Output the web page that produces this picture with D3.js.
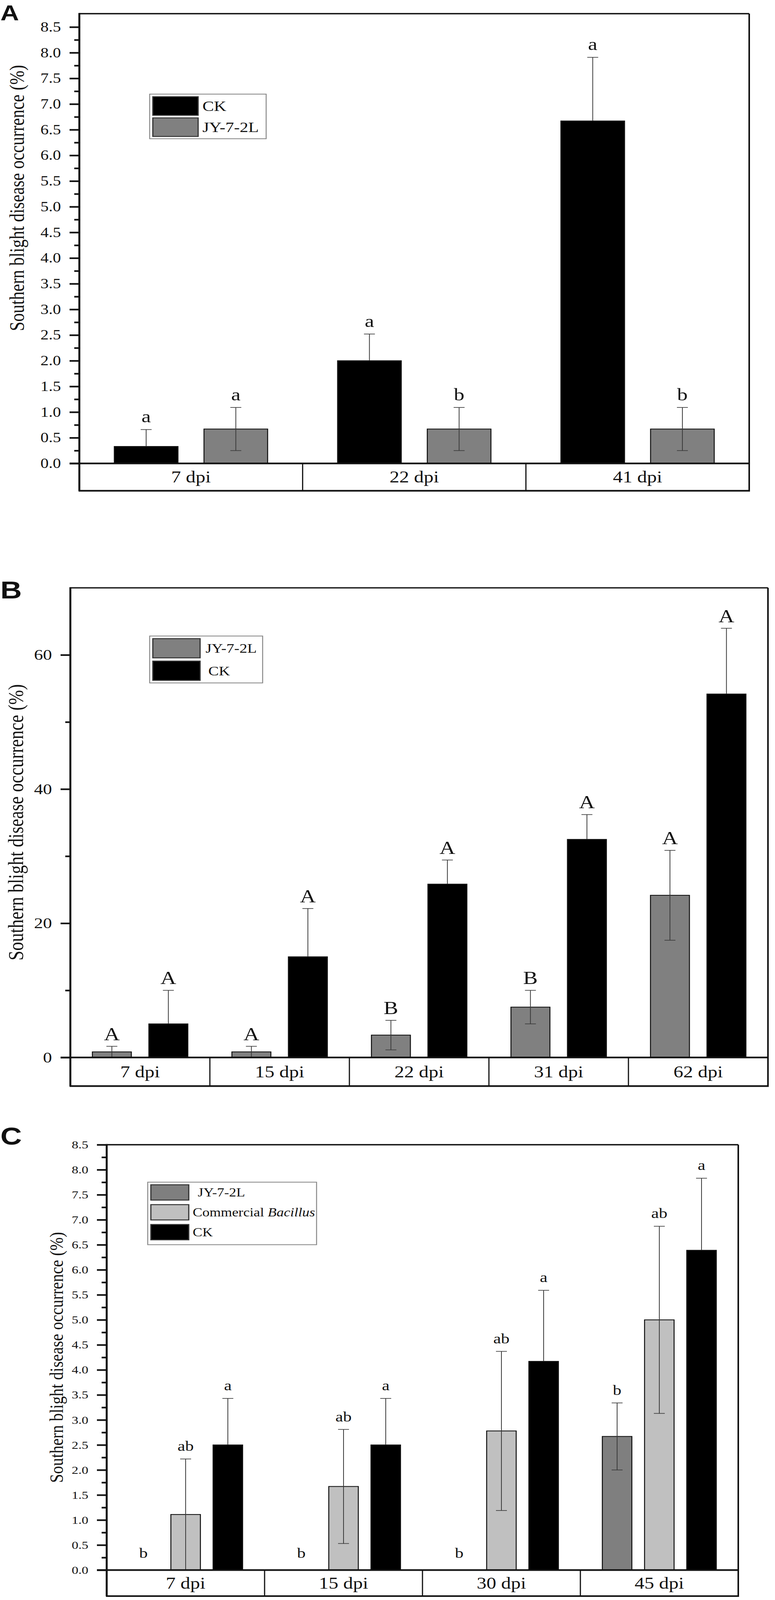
<!DOCTYPE html>
<html>
<head>
<meta charset="utf-8">
<script src="https://cdn.jsdelivr.net/npm/d3@7/dist/d3.min.js"></script>
<style>
  body { margin: 0; background: #fff; overflow: hidden; }
  svg { display: block; }
  text { font-family: "Liberation Serif", "Times New Roman", serif; fill: #111; }
</style>
</head>
<body>
<div id="chart"></div>
<script>
// ---- Panel A data ----
var catsA = ["7 dpi", "22 dpi", "41 dpi"];
var ckA = [0.33, 2.0, 6.67];
var ckErrA = [0.33, 0.52, 1.24];
var jyA = [0.67, 0.67, 0.67];
var jyErrA = [0.42, 0.42, 0.42];
var ckLetA = ["a", "a", "a"];
var jyLetA = ["a", "b", "b"];
var ticksA = [0.0, 0.5, 1.0, 1.5, 2.0, 2.5, 3.0, 3.5, 4.0, 4.5, 5.0, 5.5, 6.0, 6.5, 7.0, 7.5, 8.0, 8.5];
var minorA = [0.25, 0.75, 1.25, 1.75, 2.25, 2.75, 3.25, 3.75, 4.25, 4.75, 5.25, 5.75, 6.25, 6.75, 7.25, 7.75, 8.25];

// ---- Panel B data ----
var catsB = ["7 dpi", "15 dpi", "22 dpi", "31 dpi", "62 dpi"];
var jyB = [0.83, 0.83, 3.33, 7.5, 24.17];
var jyErrB = [0.83, 0.83, 2.2, 2.5, 6.7];
var ckB = [5.0, 15.0, 25.83, 32.5, 54.17];
var ckErrB = [5.0, 7.2, 3.6, 3.7, 9.8];
var jyLetB = ["A", "A", "B", "B", "A"];
var ckLetB = ["A", "A", "A", "A", "A"];
var ticksB = [0, 20, 40, 60];
var minorB = [10, 30, 50];

// ---- Panel C data ----
var catsC = ["7 dpi", "15 dpi", "30 dpi", "45 dpi"];
var jyC = [0, 0, 0, 2.67];
var jyErrC = [0, 0, 0, 0.67];
var bacC = [1.11, 1.67, 2.78, 5.0];
var bacErrC = [1.11, 1.14, 1.59, 1.87];
var ckC = [2.5, 2.5, 4.17, 6.39];
var ckErrC = [0.93, 0.93, 1.42, 1.44];
var jyLetC = ["b", "b", "b", "b"];
var bacLetC = ["ab", "ab", "ab", "ab"];
var ckLetC = ["a", "a", "a", "a"];
var ticksC = [0.0, 0.5, 1.0, 1.5, 2.0, 2.5, 3.0, 3.5, 4.0, 4.5, 5.0, 5.5, 6.0, 6.5, 7.0, 7.5, 8.0, 8.5];
var minorC = [0.25, 0.75, 1.25, 1.75, 2.25, 2.75, 3.25, 3.75, 4.25, 4.75, 5.25, 5.75, 6.25, 6.75, 7.25, 7.75, 8.25];

var yTitle = "Southern blight disease occurrence (%)";

// the figure is laid out on a 1983 x 4913 sheet; fit that sheet into the window
var W = 1983, H = 4913;
var svg = d3.select("#chart").append("svg")
    .attr("width", Math.min(W, window.innerWidth || W))
    .attr("height", Math.min(H, window.innerHeight || H))
    .attr("viewBox", "0 0 " + W + " " + H)
    .attr("preserveAspectRatio", "none");

svg.append("rect").attr("width", W).attr("height", H).attr("fill", "#fff");

function drawPanel(p) {
    var g = svg.append("g");

    var x0 = d3.scaleBand().domain(p.cats).range([p.left, p.right]);
    var x1 = d3.scaleBand()
        .domain(p.series.map(function(s) { return s.name; }))
        .range([0, x0.bandwidth()])
        .paddingInner(p.padIn)
        .paddingOuter(p.padOut);
    var y = d3.scaleLinear().domain([0, p.max]).range([p.zero, p.top]);

    var rows = [];
    p.series.forEach(function(s) {
        s.values.forEach(function(v, i) {
            rows.push({cat: p.cats[i], name: s.name, value: v, err: s.errs[i],
                       letter: s.letters[i], fill: s.fill});
        });
    });
    var cx = function(d) { return x0(d.cat) + x1(d.name) + x1.bandwidth() / 2; };
    var lo = function(d) { return y(Math.max(0, d.value - d.err)); };
    var hi = function(d) { return y(d.value + d.err); };

    // bars
    g.selectAll(".bar")
        .data(rows.filter(function(d) { return d.value > 0; }))
        .enter().append("rect")
        .attr("class", "bar")
        .attr("x", function(d) { return x0(d.cat) + x1(d.name); })
        .attr("y", function(d) { return y(d.value); })
        .attr("width", x1.bandwidth())
        .attr("height", function(d) { return p.zero - y(d.value); })
        .attr("fill", function(d) { return d.fill; })
        .attr("stroke", "#111")
        .attr("stroke-width", 2.5);

    // error bars (the part inside a black bar is drawn black)
    var eb = g.selectAll(".err")
        .data(rows.filter(function(d) { return d.err > 0; }))
        .enter().append("g")
        .attr("class", "err")
        .attr("stroke-width", 2);
    var inner = function(d) { return d.fill === "#000" ? "#000" : "#3a3a3a"; };
    eb.append("line")
        .attr("x1", cx).attr("x2", cx)
        .attr("y1", function(d) { return y(d.value); })
        .attr("y2", hi)
        .attr("stroke", "#3a3a3a");
    eb.append("line")
        .attr("x1", function(d) { return cx(d) - 14; })
        .attr("x2", function(d) { return cx(d) + 14; })
        .attr("y1", hi).attr("y2", hi)
        .attr("stroke", "#3a3a3a");
    eb.append("line")
        .attr("x1", cx).attr("x2", cx)
        .attr("y1", lo)
        .attr("y2", function(d) { return y(d.value); })
        .attr("stroke", inner);
    eb.append("line")
        .attr("x1", function(d) { return cx(d) - 14; })
        .attr("x2", function(d) { return cx(d) + 14; })
        .attr("y1", lo).attr("y2", lo)
        .attr("stroke", inner);

    // significance letters
    g.selectAll(".letter")
        .data(rows)
        .enter().append("text")
        .attr("class", "letter")
        .attr("x", cx)
        .attr("y", function(d) { return hi(d) - (d.err > 0 ? p.letterPad : p.zeroPad); })
        .attr("text-anchor", "middle")
        .style("font-size", p.letterSize + "px")
        .text(function(d) { return d.letter; });

    // axes
    var yAxis = d3.axisLeft(y).tickValues(p.ticks).tickSize(25).tickPadding(22)
        .tickFormat(p.fmt);
    var ax = g.append("g").attr("transform", "translate(" + p.left + ",0)").call(yAxis);
    ax.select(".domain").remove();
    ax.selectAll(".tick line").attr("stroke", "#111").attr("stroke-width", 5);
    ax.selectAll(".tick text")
        .style("font-size", p.tickSize + "px")
        .style("font-family", "Liberation Serif")
        .attr("fill", "#222");

    var minorAxis = d3.axisLeft(y).tickValues(p.minor).tickSize(p.minorLen).tickFormat("");
    var mx = g.append("g").attr("transform", "translate(" + p.left + ",0)").call(minorAxis);
    mx.select(".domain").remove();
    mx.selectAll(".tick line").attr("stroke", "#111").attr("stroke-width", 5);

    // frame
    g.append("line").attr("x1", p.left).attr("x2", p.right).attr("y1", p.top).attr("y2", p.top)
        .attr("stroke", "#111").attr("stroke-width", 4);
    g.append("line").attr("x1", p.right).attr("x2", p.right).attr("y1", p.top).attr("y2", p.boxBottom)
        .attr("stroke", "#111").attr("stroke-width", 4);
    g.append("line").attr("x1", p.left).attr("x2", p.left).attr("y1", p.top - 2).attr("y2", p.boxBottom)
        .attr("stroke", "#111").attr("stroke-width", 5);
    g.append("line").attr("x1", p.left - 25).attr("x2", p.right + 2).attr("y1", p.zero).attr("y2", p.zero)
        .attr("stroke", "#111").attr("stroke-width", 5);
    g.append("line").attr("x1", p.left - 2).attr("x2", p.right + 2).attr("y1", p.boxBottom).attr("y2", p.boxBottom)
        .attr("stroke", "#111").attr("stroke-width", 5);

    // category box
    g.selectAll(".divider")
        .data(p.cats.slice(1))
        .enter().append("line")
        .attr("x1", function(d) { return x0(d); })
        .attr("x2", function(d) { return x0(d); })
        .attr("y1", p.zero).attr("y2", p.boxBottom)
        .attr("stroke", "#111").attr("stroke-width", 3);
    g.selectAll(".cat")
        .data(p.cats)
        .enter().append("text")
        .attr("x", function(d) { return x0(d) + x0.bandwidth() / 2; })
        .attr("y", (p.zero + p.boxBottom) / 2)
        .attr("text-anchor", "middle")
        .attr("dominant-baseline", "central")
        .style("font-size", p.catSize + "px")
        .text(function(d) { return d; });

    // y title
    g.append("text")
        .attr("transform", "translate(" + p.titleX + "," + p.titleY + ") rotate(-90)")
        .attr("text-anchor", "middle")
        .attr("dominant-baseline", "central")
        .style("font-size", p.titleSize + "px")
        .text(yTitle);

    // panel letter
    g.append("text")
        .attr("x", p.tagX).attr("y", p.tagY)
        .style("font-family", "Liberation Sans, Arial, sans-serif")
        .style("font-weight", "bold")
        .style("font-size", p.tagSize + "px")
        .attr("fill", "#000")
        .text(p.tag);

    // legend
    var L = p.legend;
    g.append("rect")
        .attr("x", L.x).attr("y", L.y).attr("width", L.w).attr("height", L.h)
        .attr("fill", "#fff").attr("stroke", "#888").attr("stroke-width", 2.5);
    var items = g.selectAll(".legItem")
        .data(L.order.map(function(i) { return p.series[i]; }))
        .enter().append("g")
        .attr("transform", function(d, i) {
            return "translate(" + (L.x + 8) + "," + (L.y + 8 + i * L.step) + ")";
        });
    items.append("rect")
        .attr("width", L.sw).attr("height", L.sh)
        .attr("fill", function(d) { return d.fill; })
        .attr("stroke", "#333").attr("stroke-width", 3);
    items.append("text")
        .attr("x", function(d) { return L.sw + (d.indent || L.gap); })
        .attr("y", L.sh / 2)
        .attr("dominant-baseline", "central")
        .style("font-size", L.size + "px")
        .each(function(d) {
            var t = d3.select(this);
            t.append("tspan").text(d.label);
            if (d.italic) t.append("tspan").style("font-style", "italic").text(" " + d.italic);
        });
}

var fmt1 = d3.format(".1f");

drawPanel({
    tag: "A", tagX: 1, tagY: 62, tagSize: 66,
    cats: catsA, left: 203, right: 1917, top: 42, zero: 1423, boxBottom: 1507, max: 8.76,
    padIn: 0.29, padOut: 0.39,
    series: [
        {name: "CK", label: "CK", values: ckA, errs: ckErrA, letters: ckLetA, fill: "#000"},
        {name: "JY", label: "JY-7-2L", values: jyA, errs: jyErrA, letters: jyLetA, fill: "#808080"}
    ],
    ticks: ticksA, minor: minorA, minorLen: 13, fmt: fmt1, tickSize: 42,
    letterSize: 54, letterPad: 22, zeroPad: 22, catSize: 50,
    titleX: 43, titleY: 608, titleSize: 52,
    legend: {x: 383, y: 289, w: 298, h: 137, sw: 116, sh: 57, step: 65, gap: 11, size: 44, order: [0, 1]}
});

drawPanel({
    tag: "B", tagX: 1, tagY: 1838, tagSize: 76,
    cats: catsB, left: 180, right: 1965, top: 1805, zero: 3247, boxBottom: 3335, max: 70,
    padIn: 0.31, padOut: 0.39,
    series: [
        {name: "JY", label: "JY-7-2L", values: jyB, errs: jyErrB, letters: jyLetB, fill: "#808080"},
        {name: "CK", label: "CK", values: ckB, errs: ckErrB, letters: ckLetB, fill: "#000", indent: 21}
    ],
    ticks: ticksB, minor: minorB, minorLen: 13, fmt: d3.format("d"), tickSize: 46,
    letterSize: 56, letterPad: 19, zeroPad: 19, catSize: 50,
    titleX: 41, titleY: 2525, titleSize: 54,
    legend: {x: 383, y: 1953, w: 289, h: 144, sw: 121, sh: 59, step: 69, gap: 14, size: 40, order: [0, 1]}
});

drawPanel({
    tag: "C", tagX: 1, tagY: 3515, tagSize: 76,
    cats: catsC, left: 273, right: 1889, top: 3515, zero: 4821, boxBottom: 4901, max: 8.5,
    padIn: 0.3, padOut: 0.52,
    series: [
        {name: "JY", label: "JY-7-2L", values: jyC, errs: jyErrC, letters: jyLetC, fill: "#7f7f7f", indent: 23},
        {name: "BAC", label: "Commercial", italic: "Bacillus", values: bacC, errs: bacErrC, letters: bacLetC, fill: "#c0c0c0"},
        {name: "CK", label: "CK", values: ckC, errs: ckErrC, letters: ckLetC, fill: "#000"}
    ],
    ticks: ticksC, minor: minorC, minorLen: 13, fmt: fmt1, tickSize: 34,
    letterSize: 44, letterPad: 25, zeroPad: 38, catSize: 50,
    titleX: 145, titleY: 4168, titleSize: 49,
    legend: {x: 378, y: 3630, w: 432, h: 192, sw: 97, sh: 47, step: 61, gap: 10, size: 37, order: [0, 1, 2]}
});
</script>
</body>
</html>
